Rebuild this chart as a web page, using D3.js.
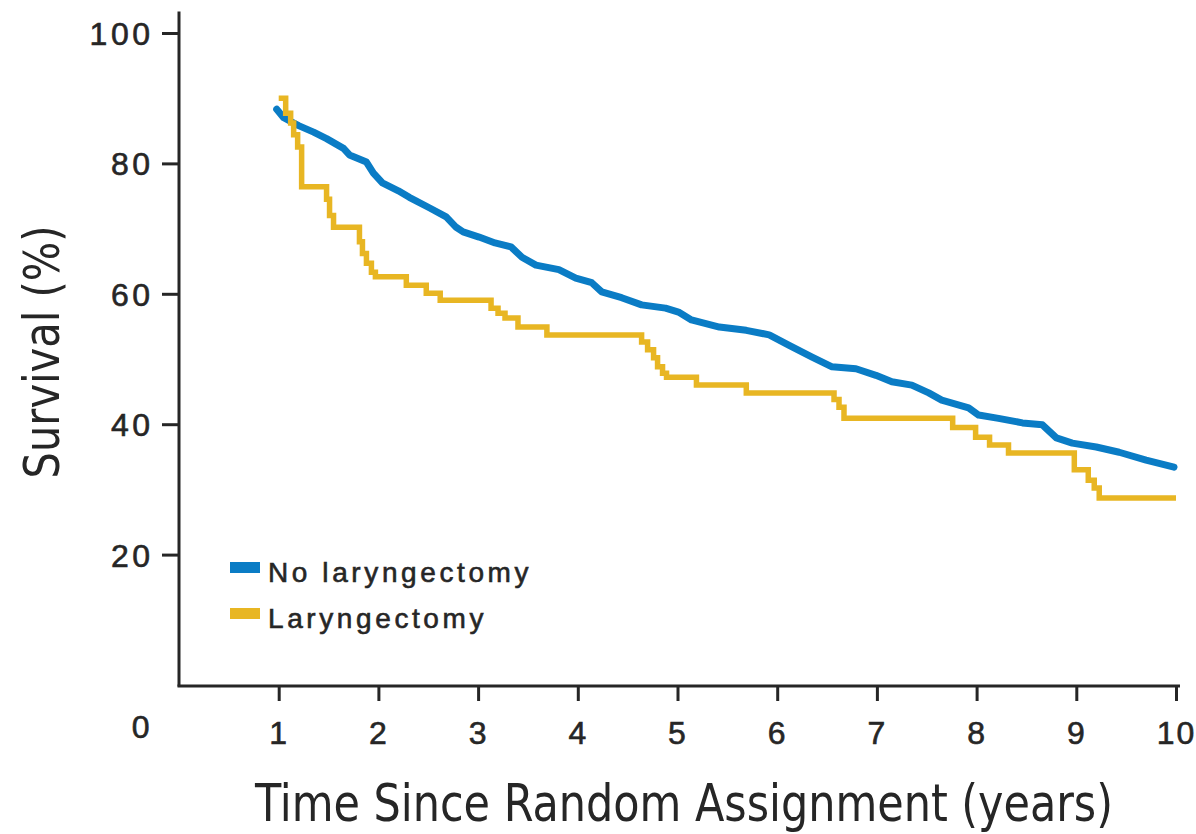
<!DOCTYPE html>
<html>
<head>
<meta charset="utf-8">
<script src="https://cdn.jsdelivr.net/npm/d3@7"></script>
<style>
  html, body { margin: 0; padding: 0; background: #fff; }
  svg { display: block; }
</style>
</head>
<body>
<svg id="chart" width="1196" height="834"></svg>
<script>
// Kaplan–Meier survival curves by laryngectomy status

const yearTicks = [1, 2, 3, 4, 5, 6, 7, 8, 9, 10];
const survivalTicks = [20, 40, 60, 80, 100];
const seriesNames = ["No laryngectomy", "Laryngectomy"];

// No laryngectomy (dense small steps, drawn as a continuous trace)
const noLarYears = [0.98, 1.05, 1.20, 1.35, 1.48, 1.65, 1.71, 1.88, 1.95, 2.04,
  2.20, 2.31, 2.51, 2.68, 2.78, 2.85, 3.01, 3.17, 3.33, 3.44,
  3.58, 3.81, 3.98, 4.14, 4.24, 4.44, 4.64, 4.88, 5.01, 5.14,
  5.42, 5.69, 5.92, 6.12, 6.35, 6.55, 6.79, 6.99, 7.15, 7.35,
  7.52, 7.65, 7.92, 8.02, 8.22, 8.46, 8.66, 8.80, 8.96, 9.20,
  9.43, 9.70, 9.98];
const noLarSurvival = [88.3, 87.0, 85.8, 84.8, 83.8, 82.3, 81.3, 80.2, 78.5, 77.0,
  75.8, 74.8, 73.2, 71.8, 70.2, 69.5, 68.7, 67.8, 67.2, 65.6,
  64.4, 63.7, 62.4, 61.7, 60.3, 59.4, 58.3, 57.8, 57.2, 56.0,
  54.9, 54.4, 53.7, 52.1, 50.3, 48.8, 48.5, 47.5, 46.5, 46.0,
  44.8, 43.7, 42.5, 41.4, 40.9, 40.2, 39.9, 37.9, 37.1, 36.5,
  35.7, 34.5, 33.4];

// Laryngectomy (step function)
const larYears = [1.00, 1.07, 1.12, 1.15, 1.19, 1.23, 1.48, 1.51, 1.55, 1.81,
  1.84, 1.88, 1.93, 1.97, 2.28, 2.48, 2.62, 3.13, 3.20, 3.27,
  3.40, 3.69, 4.64, 4.70, 4.76, 4.80, 4.85, 4.89, 5.19, 5.69,
  6.57, 6.62, 6.67, 7.76, 7.99, 8.13, 8.32, 8.98, 9.12, 9.18,
  9.23, 10.0];
const larSurvival = [90.0, 87.7, 86.2, 84.4, 82.5, 76.4, 74.5, 72.0, 70.2, 68.0,
  66.2, 64.7, 63.3, 62.6, 61.3, 60.1, 59.0, 57.8, 57.0, 56.3,
  54.9, 53.7, 52.6, 51.4, 50.2, 48.8, 47.8, 47.2, 46.0, 44.8,
  43.8, 42.6, 40.9, 39.5, 38.0, 36.8, 35.6, 33.0, 31.4, 30.2,
  28.7, 28.7];

const BLUE = "#0a7cc5";
const GOLD = "#e8b623";
const INK = "#262626";
const NUM_FONT = "'Liberation Sans', Arial, Helvetica, sans-serif";
const TITLE_FONT = "'Liberation Sans Narrow', 'DejaVu Sans Condensed', 'Liberation Sans', sans-serif";

const svg = d3.select("#chart");

const x = d3.scaleLinear().domain([0, 10]).range([179, 1176]);
const y = d3.scaleLinear().domain([0, 100]).range([685, 33]);

// Light outline thickens the small sans-serif labels a little
function numStyle(sel, size, spacing) {
  sel.attr("fill", INK)
    .attr("stroke", INK)
    .attr("stroke-width", 0.6)
    .attr("font-family", NUM_FONT)
    .attr("font-size", size)
    .attr("letter-spacing", spacing);
}

const axisG = svg.append("g");

// Axis lines
axisG.append("line")
  .attr("x1", x(0)).attr("x2", x(0))
  .attr("y1", y(0) + 1.5).attr("y2", y(103.3))
  .attr("stroke", INK).attr("stroke-width", 3);
axisG.append("line")
  .attr("x1", x(0) - 1.5).attr("x2", x(10.04))
  .attr("y1", y(0) + 1).attr("y2", y(0) + 1)
  .attr("stroke", INK).attr("stroke-width", 3);

// Y axis ticks and labels
const yAxis = d3.axisLeft(y).tickValues(survivalTicks).tickSize(17).tickPadding(12).tickSizeOuter(0);
const gy = svg.append("g").attr("transform", `translate(${x(0)},0)`).call(yAxis);
gy.select(".domain").remove();
gy.selectAll(".tick line").attr("stroke", INK).attr("stroke-width", 3);
gy.selectAll(".tick text")
  .call(numStyle, 32, 3.5)
  .attr("dx", 3.5)
  .attr("dy", "0.36em");

// X axis ticks and labels
const xAxis = d3.axisBottom(x).tickValues(yearTicks).tickSize(15).tickPadding(20).tickSizeOuter(0);
const gx = svg.append("g").attr("transform", `translate(0,${y(0) + 1})`).call(xAxis);
gx.select(".domain").remove();
gx.selectAll(".tick line").attr("stroke", INK).attr("stroke-width", 3);
gx.selectAll(".tick text")
  .call(numStyle, 32, 2)
  .attr("dx", 0)
  .attr("dy", "0.71em");

// Shared origin label
svg.append("text")
  .attr("x", 153).attr("y", 738)
  .attr("text-anchor", "end")
  .call(numStyle, 32, 3.5)
  .text("0");

// Curves
const blueData = noLarYears.map((t, i) => [t, noLarSurvival[i]]);
const goldData = larYears.map((t, i) => [t, larSurvival[i]]);

svg.append("path")
  .datum(blueData)
  .attr("fill", "none")
  .attr("stroke", BLUE)
  .attr("stroke-width", 7)
  .attr("stroke-linejoin", "round")
  .attr("stroke-linecap", "round")
  .attr("d", d3.line().x(d => x(d[0])).y(d => y(d[1])).curve(d3.curveLinear));

svg.append("path")
  .datum(goldData)
  .attr("fill", "none")
  .attr("stroke", GOLD)
  .attr("stroke-width", 5.5)
  .attr("stroke-linejoin", "miter")
  .attr("d", d3.line().x(d => x(d[0])).y(d => y(d[1])).curve(d3.curveStepAfter));

// Legend
const legend = svg.append("g");
const legendColors = [BLUE, GOLD];
seriesNames.forEach((name, i) => {
  const row = legend.append("g").attr("transform", `translate(230,${562 + i * 46})`);
  row.append("rect").attr("x", 0).attr("y", 0).attr("width", 30).attr("height", 11)
    .attr("fill", legendColors[i]);
  row.append("text")
    .attr("x", 38).attr("y", 20)
    .call(numStyle, 28, 3.6)
    .text(name);
});

// Axis titles
svg.append("text")
  .attr("transform", "translate(42,352) rotate(-90)")
  .attr("text-anchor", "middle")
  .attr("dominant-baseline", "central")
  .attr("fill", INK)
  .attr("font-family", TITLE_FONT)
  .attr("font-size", 50)
  .attr("textLength", 253)
  .attr("lengthAdjust", "spacingAndGlyphs")
  .text("Survival (%)");

svg.append("text")
  .attr("x", 684).attr("y", 821)
  .attr("text-anchor", "middle")
  .attr("fill", INK)
  .attr("font-family", TITLE_FONT)
  .attr("font-size", 52)
  .attr("textLength", 858)
  .attr("lengthAdjust", "spacingAndGlyphs")
  .text("Time Since Random Assignment (years)");
</script>
</body>
</html>
